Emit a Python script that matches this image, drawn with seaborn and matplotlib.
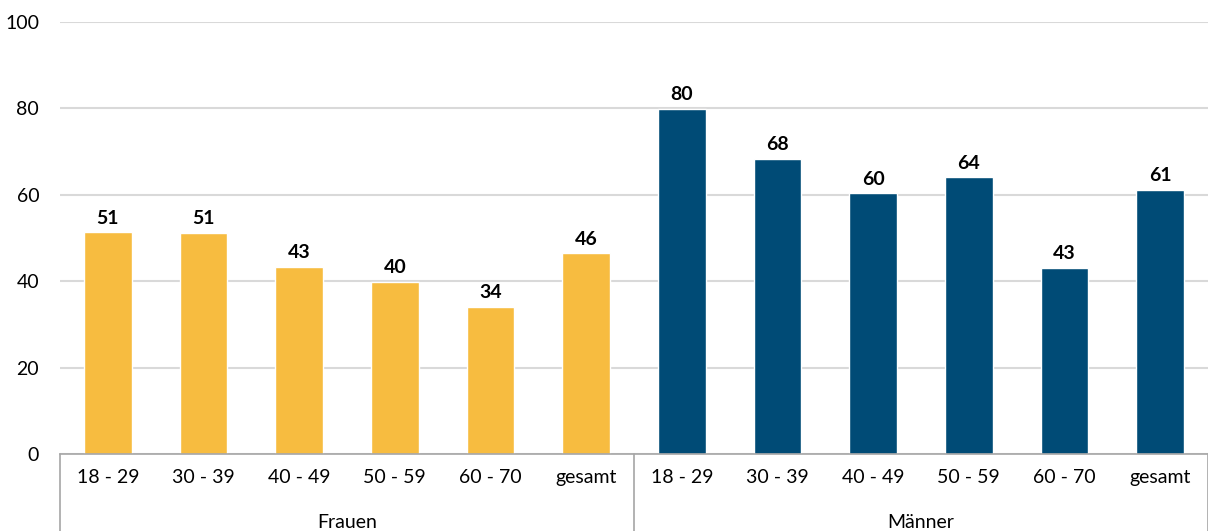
import numpy as np
import pandas as pd
import matplotlib
matplotlib.use("Agg")
import matplotlib.pyplot as plt
import matplotlib.transforms as mtransforms
import seaborn as sns

groups = ["Frauen", "Männer"]
ages = ["18 - 29", "30 - 39", "40 - 49", "50 - 59", "60 - 70", "gesamt"]
frauen = [51.3, 51.2, 43.3, 39.9, 34.1, 46.5]
maenner = [79.9, 68.4, 60.4, 64.1, 43.1, 61.1]
colors = {"Frauen": "#F7BC40", "Männer": "#004B76"}

rows = []
for g, vals in zip(groups, [frauen, maenner]):
    for a, v in zip(ages, vals):
        rows.append({"group": g, "age": a, "key": f"{g}|{a}", "value": v})
df = pd.DataFrame(rows)

sns.set_style("white")
plt.rcParams["font.family"] = ["Lato", "DejaVu Sans"]
plt.rcParams["text.color"] = "black"

fig = plt.figure(figsize=(12.08, 5.31), dpi=100)
ax = fig.add_axes([60 / 1208, 77 / 531, 1148 / 1208, 432 / 531])

sns.barplot(data=df, x="key", y="value", hue="group", palette=colors,
            dodge=False, width=0.5, ax=ax, legend=False, saturation=1)

ax.set_ylim(0, 100)
ax.set_xlim(-0.5, len(df) - 0.5)
ax.set_yticks(np.arange(0, 101, 20))
ax.yaxis.grid(True, color="#D9D9D9", linewidth=1.5)
ax.set_axisbelow(True)
for s in ["top", "right", "left"]:
    ax.spines[s].set_visible(False)
ax.spines["bottom"].set_color("#A6A6A6")
ax.spines["bottom"].set_linewidth(1.2)
ax.tick_params(axis="both", length=0, labelsize=14, colors="#000000")
ax.tick_params(axis="y", pad=15)
ax.tick_params(axis="x", pad=11)
ax.set_xticks(range(len(df)))
ax.set_xticklabels(df["age"])
ax.set_xlabel("")
ax.set_ylabel("")

for cont in ax.containers:
    ax.bar_label(cont, fmt="%.0f", padding=4, fontsize=14, fontweight="bold",
                 color="black")

trans = mtransforms.blended_transform_factory(ax.transData, ax.transAxes)
n = len(ages)
for xpos in [-0.5, n - 0.5, 2 * n - 0.5]:
    ax.plot([xpos, xpos], [0, -77 / 432], transform=trans, color="#A6A6A6",
            linewidth=1.2, clip_on=False)
for i, g in enumerate(groups):
    ax.text(i * n + (n - 1) / 2, -68 / 432, g, transform=trans, ha="center",
            va="center", fontsize=14)

fig.savefig("out.png", dpi=100)
